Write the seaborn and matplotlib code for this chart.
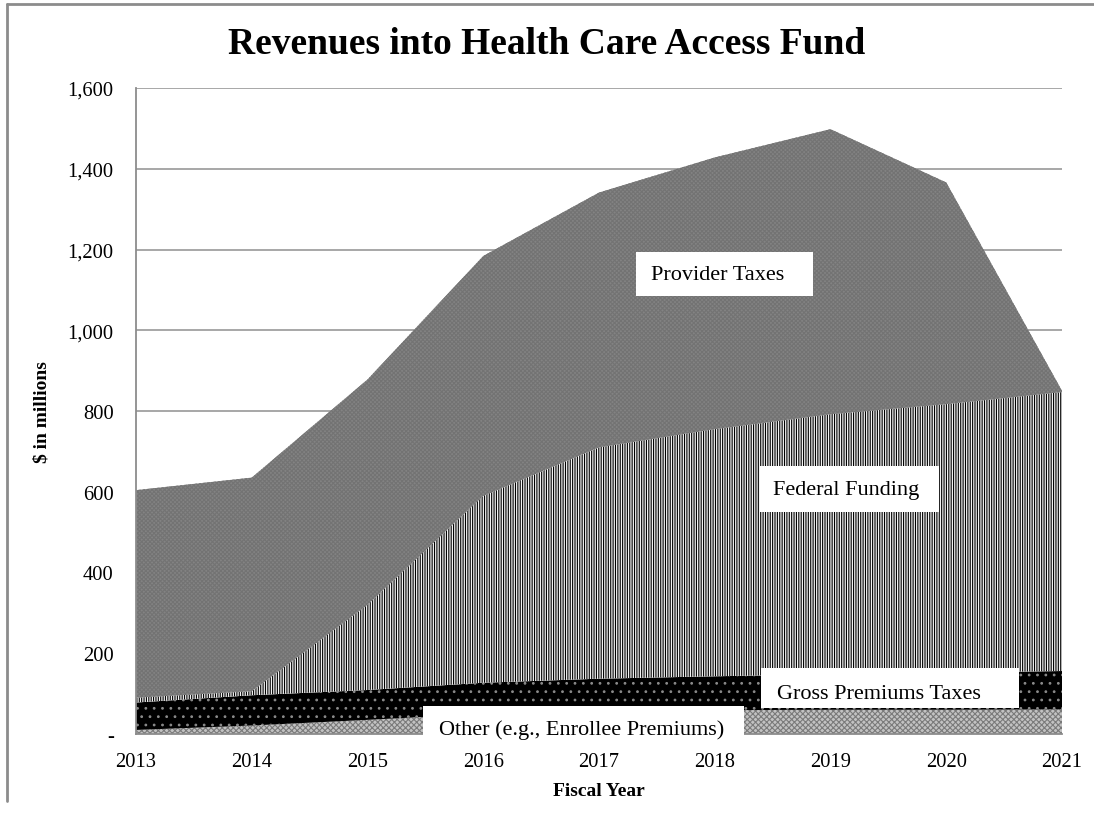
import numpy as np
import pandas as pd
import seaborn as sns
import matplotlib
matplotlib.use("Agg")
import matplotlib.pyplot as plt
from matplotlib.patches import Rectangle
from matplotlib.lines import Line2D
from matplotlib.ticker import FuncFormatter

# Revenue sources, $ in millions, by fiscal year
years = [2013, 2014, 2015, 2016, 2017, 2018, 2019, 2020, 2021]
other = [10, 21, 35, 50, 57, 59, 60, 60, 61]
gross_premiums = [68, 75, 74, 77, 80, 84, 88, 92, 95]
federal = [12, 10, 211, 463, 573, 612, 644, 665, 691]
provider = [514, 529, 558, 594, 631, 673, 706, 549, 3]

df = pd.DataFrame({
    "year": years,
    "Other (e.g., Enrollee Premiums)": other,
    "Gross Premiums Taxes": gross_premiums,
    "Federal Funding": federal,
    "Provider Taxes": provider,
})

sns.set_theme(style="white")
plt.rcParams["font.family"] = ["Liberation Serif", "DejaVu Serif"]
plt.rcParams["hatch.linewidth"] = 0.8
plt.rcParams["text.color"] = "black"
plt.rcParams["axes.labelcolor"] = "black"

fig = plt.figure(figsize=(10.94, 8.2), dpi=100)
ax = fig.add_axes([136 / 1094, 1 - 735 / 820, (1062 - 136) / 1094, (735 - 89) / 820])

styles = {
    "Other (e.g., Enrollee Premiums)": dict(facecolor="#c2c2c2", edgecolor="#7a7a7a", hatch="xxxxxx"),
    "Gross Premiums Taxes": dict(facecolor="black", edgecolor="#8a8a8a", hatch=".."),
    "Federal Funding": dict(facecolor="#f2f2f2", edgecolor="black", hatch="|||||||"),
    "Provider Taxes": dict(facecolor="#838383", edgecolor="#737373", hatch="xxxxxxxx"),
}

series = ["Other (e.g., Enrollee Premiums)", "Gross Premiums Taxes", "Federal Funding", "Provider Taxes"]
base = np.zeros(len(df))
for name in series:
    top = base + df[name].to_numpy()
    ax.fill_between(df["year"], base, top, linewidth=0, zorder=2, **styles[name])
    base = top

ax.set_xlim(2013, 2021)
ax.set_ylim(0, 1600)
ax.set_xticks(years)
ax.set_yticks(np.arange(0, 1601, 200))
ax.yaxis.set_major_formatter(FuncFormatter(lambda v, p: "-" if v == 0 else f"{int(v):,}"))

ax.set_axisbelow(True)
ax.grid(axis="y", color="#a0a0a0", linewidth=1.3, zorder=0)
ax.grid(axis="x", visible=False)
for s in ["top", "right"]:
    ax.spines[s].set_visible(False)
for s in ["left", "bottom"]:
    ax.spines[s].set_color("#8c8c8c")
    ax.spines[s].set_linewidth(1.3)
ax.tick_params(axis="both", which="major", direction="out", length=5, width=1.2,
               color="#8c8c8c", labelsize=14.8, labelcolor="black")
ax.tick_params(axis="y", pad=11)
ax.tick_params(axis="x", pad=8)

ax.set_xlabel("Fiscal Year", fontsize=14, fontweight="bold", labelpad=8)
ax.set_ylabel("$ in millions", fontsize=14, fontweight="bold", labelpad=12)

fig.text(0.5, 1 - 45 / 820, "Revenues into Health Care Access Fund", ha="center", va="center",
         fontsize=27, fontweight="bold")

# White label boxes: (x0, x1, y0, y1) in data units, text x and baseline
labels = [
    ("Provider Taxes", (2017.32, 2018.85, 1084, 1194), 2017.45, 1126),
    ("Federal Funding", (2018.39, 2019.94, 550, 664), 2018.505, 594),
    ("Gross Premiums Taxes", (2018.40, 2020.63, 65, 164), 2018.535, 90),
    ("Other (e.g., Enrollee Premiums)", (2015.48, 2018.25, -26, 69), 2015.62, -1),
]
for text, (x0, x1, y0, y1), tx, ty in labels:
    ax.add_patch(Rectangle((x0, y0), x1 - x0, y1 - y0, facecolor="white", edgecolor="none",
                           zorder=5, clip_on=False))
    ax.text(tx, ty, text, ha="left", va="baseline", fontsize=16, zorder=6)

# Chart frame
fig.add_artist(Line2D([7 / 1094, 7 / 1094], [1 - 802 / 820, 1 - 5 / 820], color="#8c8c8c",
                      linewidth=2, transform=fig.transFigure))
fig.add_artist(Line2D([7 / 1094, 1.0], [1 - 5 / 820, 1 - 5 / 820], color="#8c8c8c",
                      linewidth=2, transform=fig.transFigure))

fig.savefig("out.png", dpi=100)
